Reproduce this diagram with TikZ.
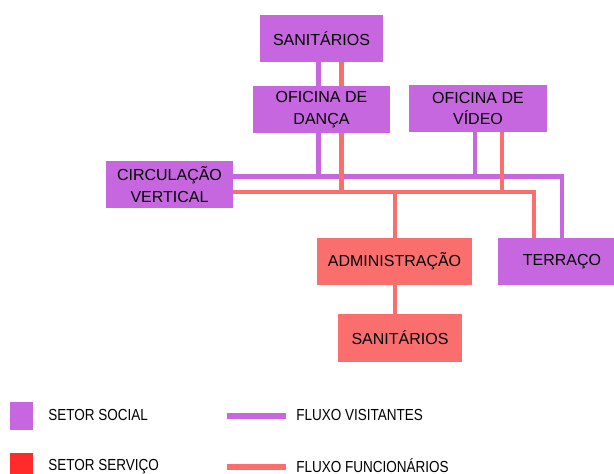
\documentclass[tikz,border=0pt]{standalone}
\usepackage{fontspec}
\setmainfont{Liberation Sans}
\newfontfamily\legfont{Liberation Sans}[FakeStretch=0.845]
\usepackage{tikz}
\definecolor{social}{HTML}{C767E0}
\definecolor{servico}{HTML}{FA6E6E}
\definecolor{servicoleg}{HTML}{FF2B2B}

\begin{document}
\begin{tikzpicture}[x=0.75pt,y=0.75pt,yscale=-1,
    room/.style={rectangle, inner sep=0pt, minimum height=35.25pt, align=center,
        font=\fontsize{12}{16}\selectfont},
    legtext/.style={inner sep=0pt, anchor=base west, font=\legfont\fontsize{12}{14}\selectfont},
    visit/.style={draw=social, line width=3.5pt},
    staff/.style={draw=servico, line width=3.5pt}]
        \useasboundingbox (0,0) rectangle (614,474);

        % Rooms
        \node[room, fill=social, minimum width=92.25pt] (sanit) at (321.5,38.5) {SANITÁRIOS};
        \node[room, fill=social, minimum width=102.75pt] (danca) at (321.5,109.5) {OFICINA DE\\DANÇA};
        \node[room, fill=social, minimum width=95.25pt] (circ) at (169.5,184.5) {CIRCULAÇÃO\\VERTICAL};
        \node[room, fill=social, minimum width=103.5pt] (video) at (478,108.5) {OFICINA DE\\VÍDEO};
        \node[room, fill=servico, minimum width=116.25pt] (adm) at (394.5,261.5) {ADMINISTRAÇÃO};
        \node[room, fill=social, minimum width=96pt] (terraco) at (562,261.5) {TERRAÇO};
        \node[room, fill=servico, minimum width=93pt, minimum height=36pt] (sanserv) at (400,338) {SANITÁRIOS};

        % Junctions
        \coordinate (vdanca) at (318.5,176.5);
        \coordinate (vvideo) at (475,176.5);
        \coordinate (vterr) at (562,176.5);
        \coordinate (fdanca) at (341.5,192);
        \coordinate (fvideo) at (502,192);
        \coordinate (fadm) at (395,192);
        \coordinate (fterr) at (534,192);

        % Visitor flow
        \draw[visit] (sanit.south -| vdanca) -- (danca.north -| vdanca);
        \draw[visit] (danca.south -| vdanca) -- (vdanca);
        \draw[visit] (video.south -| vvideo) -- (vvideo);
        \draw[visit] (circ.east |- vdanca) -- (vterr) -- (terraco.north -| vterr);

        % Staff flow
        \draw[staff] (sanit.south -| fdanca) -- (danca.north -| fdanca);
        \draw[staff] (danca.south -| fdanca) -- (fdanca);
        \draw[staff] (video.south -| fvideo) -- (fvideo);
        \draw[staff] (circ.east |- fdanca) -- (fterr) -- (terraco.north -| fterr);
        \draw[staff] (fadm) -- (adm.north -| fadm);
        \draw[staff] (adm.south -| fadm) -- (sanserv.north -| fadm);

        % Legend
        \node[fill=social, inner sep=0pt, minimum width=17.25pt, minimum height=21pt] (kSocial) at (21.5,416) {};
        \node[fill=servicoleg, inner sep=0pt, minimum width=17.25pt, minimum height=17.25pt] (kServ) at (21.5,464.5) {};
        \node[legtext] (tSocial) at (48,420) {SETOR SOCIAL};
        \node[legtext] (tServ) at (48,470.5) {SETOR SERVIÇO};
        \coordinate (lvA) at (227,416);
        \coordinate (lvB) at (286,416);
        \coordinate (lfA) at (227,467);
        \coordinate (lfB) at (286,467);
        \draw[visit, line width=4.5pt] (lvA) -- (lvB);
        \draw[staff, line width=4.5pt] (lfA) -- (lfB);
        \node[legtext] (tVisit) at (296,420) {FLUXO VISITANTES};
        \node[legtext] (tStaff) at (296,472) {FLUXO FUNCIONÁRIOS};
\end{tikzpicture}
\end{document}
